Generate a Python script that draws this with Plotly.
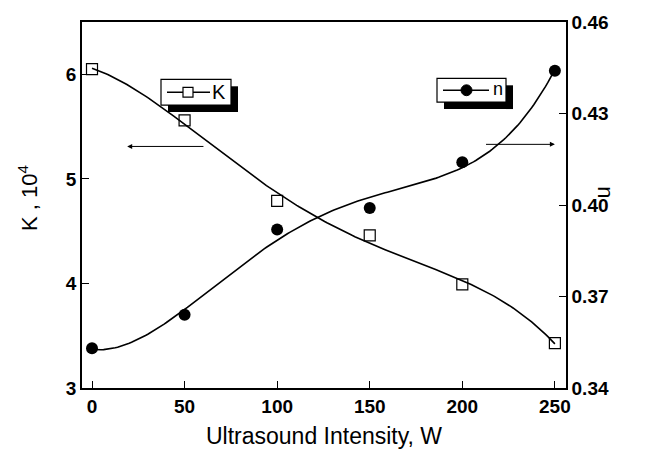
import numpy as np
import plotly.graph_objects as go

# Data
intensity = [0, 50, 100, 150, 200, 250]
K_values = [6.05, 5.56, 4.79, 4.46, 3.99, 3.43]
n_values = [0.353, 0.364, 0.392, 0.399, 0.414, 0.444]

x_ticks = [0, 50, 100, 150, 200, 250]
k_ticks = [3, 4, 5, 6]
n_ticks = [0.34, 0.37, 0.40, 0.43, 0.46]
n_ticklabels = ["0.34", "0.37", "0.40", "0.43", "0.46"]

# Smooth fitted curves (least squares polynomial fits of the data)
xs = np.linspace(min(intensity), max(intensity), 200)
K_fit = np.polyval(np.polyfit(intensity, K_values, 4), xs)
n_fit = np.polyval(np.polyfit(intensity, n_values, 4), xs)

W, H = 649, 464
ml, mr, mt, mb = 82, 83, 18, 76
pw, ph = W - ml - mr, H - mt - mb

def px(xpix):
    return (xpix - ml) / pw

def py(ypix):
    return (H - mb - ypix) / ph

FONT = "Liberation Sans, Arial, sans-serif"

fig = go.Figure()
fig.add_trace(go.Scatter(x=xs, y=K_fit, mode="lines", line=dict(color="black", width=1.6),
                         showlegend=False, hoverinfo="skip"))
fig.add_trace(go.Scatter(x=intensity, y=K_values, mode="markers", name="K",
                         marker=dict(symbol="square-open", size=11, color="black", line=dict(width=1.2)),
                         showlegend=False))
fig.add_trace(go.Scatter(x=xs, y=n_fit, mode="lines", line=dict(color="black", width=1.6),
                         yaxis="y2", showlegend=False, hoverinfo="skip"))
fig.add_trace(go.Scatter(x=intensity, y=n_values, mode="markers", yaxis="y2", name="n",
                         marker=dict(symbol="circle", size=12, color="black"),
                         showlegend=False))

# arrows
fig.add_annotation(x=19, y=5.31, ax=61, ay=5.31, xref="x", yref="y", axref="x", ayref="y",
                   showarrow=True, arrowhead=2, arrowsize=1, arrowwidth=1, arrowcolor="black", text="")
fig.add_annotation(x=250, y=5.33, ax=212, ay=5.33, xref="x", yref="y", axref="x", ayref="y",
                   showarrow=True, arrowhead=2, arrowsize=1, arrowwidth=1, arrowcolor="black", text="")

# axis titles
fig.add_annotation(x=px(28), y=py(196), xref="paper", yref="paper", text="K , 10<sup>4</sup>",
                   xanchor="center", yanchor="middle",
                   textangle=-90, showarrow=False, font=dict(family=FONT, size=22, color="black"))
fig.add_annotation(x=px(606), y=py(190), xref="paper", yref="paper", text="n",
                   xanchor="center", yanchor="middle",
                   textangle=90, showarrow=False, font=dict(family=FONT, size=22, color="black"))

# hand-drawn legend boxes with drop shadows (right and bottom strips)
def legend_box(x0, x1, y0, y1, sh):
    fig.add_shape(type="rect", xref="paper", yref="paper", x0=px(x1), x1=px(x1 + sh),
                  y0=py(y1 + sh), y1=py(y0 + sh), fillcolor="black", line=dict(width=0), layer="above")
    fig.add_shape(type="rect", xref="paper", yref="paper", x0=px(x0 + sh), x1=px(x1 + sh),
                  y0=py(y1 + sh), y1=py(y1), fillcolor="black", line=dict(width=0), layer="above")
    fig.add_shape(type="rect", xref="paper", yref="paper", x0=px(x0), x1=px(x1),
                  y0=py(y1), y1=py(y0), fillcolor="white", line=dict(color="black", width=1.2),
                  layer="above")

legend_box(161, 231, 76, 102, 7)
legend_box(437, 506, 75, 99, 7)
# K entry: line, open square, label
fig.add_shape(type="line", xref="paper", yref="paper", x0=px(167), x1=px(210), y0=py(89), y1=py(89),
              line=dict(color="black", width=1.6), layer="above")
fig.add_shape(type="rect", xref="paper", yref="paper", x0=px(183), x1=px(193), y0=py(94), y1=py(84),
              fillcolor="white", line=dict(color="black", width=1.2), layer="above")
fig.add_annotation(x=px(219), y=py(89), xref="paper", yref="paper", text="K", showarrow=False,
                   xanchor="center", yanchor="middle",
                   font=dict(family=FONT, size=20, color="black"))
# n entry: line, filled circle, label
fig.add_shape(type="line", xref="paper", yref="paper", x0=px(443), x1=px(489), y0=py(87), y1=py(87),
              line=dict(color="black", width=1.6), layer="above")
fig.add_shape(type="circle", xref="paper", yref="paper", x0=px(461), x1=px(472), y0=py(92.5), y1=py(81.5),
              fillcolor="black", line=dict(color="black", width=1), layer="above")
fig.add_annotation(x=px(498), y=py(86), xref="paper", yref="paper", text="n", showarrow=False,
                   xanchor="center", yanchor="middle",
                   font=dict(family=FONT, size=18, color="black"))

axis_common = dict(showgrid=False, zeroline=False, showline=True, linecolor="black", linewidth=1.5,
                   ticks="inside", ticklen=7, tickwidth=1.2, tickcolor="black",
                   tickfont=dict(family=FONT, size=19, color="black", weight="bold"))

fig.update_layout(
    width=W, height=H,
    margin=dict(l=ml, r=mr, t=mt, b=mb),
    paper_bgcolor="white", plot_bgcolor="white",
    showlegend=False,
    xaxis=dict(range=[-5.4, 256], tickvals=x_ticks, mirror=True,
               title=dict(text="Ultrasound Intensity, W", font=dict(family=FONT, size=23, color="black"),
                          standoff=12),
               **axis_common),
    yaxis=dict(range=[3, 6.5], tickvals=k_ticks, **axis_common),
    yaxis2=dict(range=[0.34, 0.46], tickvals=n_ticks, ticktext=n_ticklabels, overlaying="y",
                side="right", **axis_common),
)

fig.write_html("out.html")
